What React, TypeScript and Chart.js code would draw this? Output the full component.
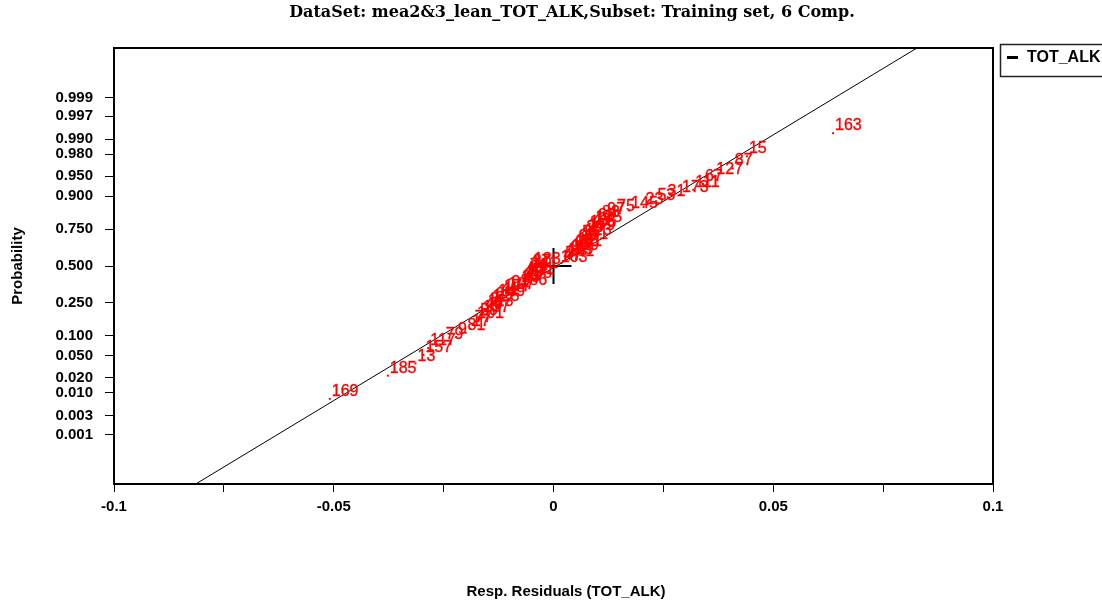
import React, { useEffect, useRef } from 'react';
import { Chart, registerables, LinearScale } from 'chart.js';

// ---------------- data ----------------
const TITLE = 'DataSet: mea2&3_lean_TOT_ALK,Subset: Training set, 6 Comp.';
const X_TITLE = 'Resp. Residuals (TOT_ALK)';
const Y_TITLE = 'Probability';
const LEGEND_LABEL = 'TOT_ALK';

const sampleIds = [
  169, 185, 13, 157, 117, 79, 9, 81, 17, 77,
  101, 59, 137, 49, 113, 3, 125, 65, 149, 41,
  177, 107, 91, 186, 33, 61, 155, 19, 131, 99,
  71, 141, 27, 183, 103, 47, 5, 161, 119, 37,
  139, 69, 181, 11, 93, 151, 55, 123, 29, 179,
  105, 43, 135, 63, 83, 97, 75, 145, 23, 53,
  31, 173, 111, 67, 127, 87, 15, 163,
];

const residuals = [
  -0.0509, -0.0377, -0.0314, -0.0296, -0.0285, -0.0250, -0.0222, -0.0200, -0.0190, -0.0184,
  -0.0178, -0.0171, -0.0165, -0.0160, -0.0154, -0.0149, -0.0143, -0.0137, -0.0130, -0.0124,
  -0.0117, -0.0108, -0.0100, -0.0080, -0.0076, -0.0073, -0.0069, -0.0066, -0.0063, -0.0060,
  -0.0058, -0.0055, -0.0052, -0.0049, 0.0012, 0.0018, 0.0022, 0.0027, 0.0029, 0.0035,
  0.0038, 0.0043, 0.0045, 0.0051, 0.0053, 0.0059, 0.0061, 0.0067, 0.0070, 0.0075,
  0.0078, 0.0085, 0.0091, 0.0096, 0.0106, 0.0118, 0.0140, 0.0172, 0.0205, 0.0232,
  0.0255, 0.0288, 0.0318, 0.0340, 0.0366, 0.0408, 0.0440, 0.0636,
];

const probabilities = [
  0.0074, 0.0221, 0.0368, 0.0515, 0.0662, 0.0809, 0.0956, 0.1103, 0.1250, 0.1397,
  0.1544, 0.1691, 0.1838, 0.1985, 0.2132, 0.2279, 0.2426, 0.2574, 0.2721, 0.2868,
  0.3015, 0.3162, 0.3309, 0.3456, 0.3603, 0.3750, 0.3897, 0.4044, 0.4191, 0.4338,
  0.4485, 0.4632, 0.4779, 0.4926, 0.5074, 0.5221, 0.5368, 0.5515, 0.5662, 0.5809,
  0.5956, 0.6103, 0.6250, 0.6397, 0.6544, 0.6691, 0.6838, 0.6985, 0.7132, 0.7279,
  0.7426, 0.7574, 0.7721, 0.7868, 0.8015, 0.8162, 0.8309, 0.8456, 0.8603, 0.8750,
  0.8897, 0.9044, 0.9191, 0.9338, 0.9485, 0.9632, 0.9779, 0.9926,
];

const refLineResiduals = [-0.0814, 0.0827];
const refLineProbabilities = [0.0000317, 0.9999683];

const centerResidual = [0];
const centerProbability = [0.5];

const yTickValues = [0.001, 0.003, 0.01, 0.02, 0.05, 0.1, 0.25, 0.5, 0.75, 0.9, 0.95, 0.98, 0.99, 0.997, 0.999];
const xTickValues = [-0.1, -0.075, -0.05, -0.025, 0, 0.025, 0.05, 0.075, 0.1];
const xTickLabels = ['-0.1', '', '-0.05', '', '0', '', '0.05', '', '0.1'];

// ---------------- normal probability scale ----------------
const Z_MIN = -4;
const Z_MAX = 4;

function probit(p: number): number {
  if (p <= 0) return -Infinity;
  if (p >= 1) return Infinity;
  const a = [-3.969683028665376e1, 2.209460984245205e2, -2.759285104469687e2, 1.38357751867269e2, -3.066479806614716e1, 2.506628277459239];
  const b = [-5.447609879822406e1, 1.615858368580409e2, -1.556989798598866e2, 6.680131188771972e1, -1.328068155288572e1];
  const c = [-7.784894002430293e-3, -3.223964580411365e-1, -2.400758277161838, -2.549732539343734, 4.374664141464968, 2.938163982698783];
  const d = [7.784695709041462e-3, 3.224671290700398e-1, 2.445134137142996, 3.754408661907416];
  const pl = 0.02425;
  let q: number, r: number;
  if (p < pl) {
    q = Math.sqrt(-2 * Math.log(p));
    return (((((c[0] * q + c[1]) * q + c[2]) * q + c[3]) * q + c[4]) * q + c[5]) / ((((d[0] * q + d[1]) * q + d[2]) * q + d[3]) * q + 1);
  }
  if (p <= 1 - pl) {
    q = p - 0.5;
    r = q * q;
    return ((((((a[0] * r + a[1]) * r + a[2]) * r + a[3]) * r + a[4]) * r + a[5]) * q) / (((((b[0] * r + b[1]) * r + b[2]) * r + b[3]) * r + b[4]) * r + 1);
  }
  q = Math.sqrt(-2 * Math.log(1 - p));
  return -(((((c[0] * q + c[1]) * q + c[2]) * q + c[3]) * q + c[4]) * q + c[5]) / ((((d[0] * q + d[1]) * q + d[2]) * q + d[3]) * q + 1);
}

function normCdf(z: number): number {
  const t = 1 / (1 + 0.3275911 * Math.abs(z) / Math.SQRT2);
  const y = 1 - (((((1.061405429 * t - 1.453152027) * t + 1.421413741) * t - 0.284496736) * t + 0.254829592) * t) * Math.exp(-(z * z) / 2);
  return z >= 0 ? 0.5 * (1 + y) : 0.5 * (1 - y);
}

class ProbitScale extends LinearScale {
  static id = 'probit';
  static defaults = {};
  determineDataLimits() {
    (this as any).min = Z_MIN;
    (this as any).max = Z_MAX;
  }
  buildTicks() {
    return yTickValues.map((v) => ({ value: v }));
  }
  getPixelForValue(value: number) {
    return super.getPixelForValue(probit(value));
  }
  getValueForPixel(pixel: number) {
    return normCdf(super.getValueForPixel(pixel) as number);
  }
}

Chart.register(...registerables, ProbitScale as any);

const SANS = '"Liberation Sans", Arial, sans-serif';

const decorPlugin = {
  id: 'decor',
  beforeDatasetsDraw(chart: any) {
    const { ctx, chartArea } = chart;
    ctx.save();
    ctx.strokeStyle = '#000';
    ctx.lineWidth = 2;
    ctx.beginPath();
    ctx.moveTo(chartArea.left, chartArea.top);
    ctx.lineTo(chartArea.right, chartArea.top);
    ctx.lineTo(chartArea.right, chartArea.bottom);
    ctx.stroke();
    ctx.restore();
  },
  afterDatasetsDraw(chart: any) {
    const { ctx } = chart;
    const meta = chart.getDatasetMeta(2);
    ctx.save();
    ctx.fillStyle = '#ff0000';
    ctx.strokeStyle = '#ff0000';
    ctx.lineWidth = 0.35;
    ctx.font = `16px ${SANS}`;
    ctx.textAlign = 'left';
    ctx.textBaseline = 'alphabetic';
    meta.data.forEach((el: any, i: number) => {
      const t = String(sampleIds[i]);
      ctx.fillText(t, el.x + 2, el.y - 3);
      ctx.strokeText(t, el.x + 2, el.y - 3);
    });
    ctx.restore();
  },
  afterDraw(chart: any) {
    const { ctx } = chart;
    ctx.save();
    ctx.fillStyle = '#000';
    // title
    ctx.font = 'bold 16px "DejaVu Serif", serif';
    ctx.textAlign = 'center';
    ctx.textBaseline = 'middle';
    ctx.fillText(TITLE, 572, 13);
    // x title
    ctx.font = `bold 15px ${SANS}`;
    ctx.fillText(X_TITLE, 566, 592);
    // y title
    ctx.save();
    ctx.translate(18, 266);
    ctx.rotate(-Math.PI / 2);
    ctx.fillText(Y_TITLE, 0, 0);
    ctx.restore();
    // legend
    ctx.strokeStyle = '#222';
    ctx.lineWidth = 1.5;
    ctx.strokeRect(1000.5, 44.5, 130, 32);
    ctx.fillRect(1007, 56, 11, 3);
    ctx.font = `bold 16px ${SANS}`;
    ctx.textAlign = 'left';
    ctx.fillText(LEGEND_LABEL, 1027, 58);
    ctx.restore();
  },
};

export default function App() {
  const canvasRef = useRef<HTMLCanvasElement | null>(null);

  useEffect(() => {
    const canvas = canvasRef.current;
    if (!canvas) return;
    const chart = new Chart(canvas, {
      type: 'scatter',
      data: {
        datasets: [
          {
            label: 'ref',
            type: 'line',
            data: refLineResiduals.map((x, i) => ({ x, y: refLineProbabilities[i] })),
            borderColor: '#000',
            borderWidth: 1,
            pointRadius: 0,
            fill: false,
            order: 3,
          } as any,
          {
            label: 'center',
            data: centerResidual.map((x, i) => ({ x, y: centerProbability[i] })),
            pointStyle: 'cross',
            pointRadius: 18,
            borderColor: '#000',
            borderWidth: 2,
            order: 2,
          },
          {
            label: LEGEND_LABEL,
            data: residuals.map((x, i) => ({ x, y: probabilities[i] })),
            pointStyle: 'rect',
            pointRadius: 1.4,
            backgroundColor: '#ff0000',
            borderColor: '#ff0000',
            borderWidth: 0,
            order: 1,
          },
        ],
      },
      options: {
        animation: false,
        responsive: false,
        devicePixelRatio: 1,
        events: [],
        layout: { padding: { left: 0, top: 48, right: 109, bottom: 0 } },
        plugins: { legend: { display: false }, tooltip: { enabled: false }, title: { display: false } },
        scales: {
          x: {
            type: 'linear',
            min: -0.1,
            max: 0.1,
            afterBuildTicks: (scale: any) => {
              scale.ticks = xTickValues.map((v) => ({ value: v }));
            },
            afterFit: (scale: any) => {
              scale.height = 118;
            },
            ticks: {
              autoSkip: false,
              maxRotation: 0,
              padding: 6,
              color: '#000',
              font: { family: SANS, size: 15, weight: 'bold' },
              callback: (_v: any, i: number) => xTickLabels[i],
            },
            grid: { drawOnChartArea: false, drawTicks: true, tickLength: 8, color: '#000', lineWidth: 1 },
            border: { display: true, color: '#000', width: 2 },
          },
          y: {
            type: 'probit' as any,
            afterFit: (scale: any) => {
              scale.width = 114;
            },
            ticks: {
              autoSkip: false,
              padding: 12,
              color: '#000',
              font: { family: SANS, size: 15, weight: 'bold' },
              callback: (v: any) => Number(v).toFixed(3),
            },
            grid: { drawOnChartArea: false, drawTicks: true, tickLength: 9, color: '#000', lineWidth: 1 },
            border: { display: true, color: '#000', width: 2 },
          } as any,
        },
      },
      plugins: [decorPlugin],
    });
    return () => chart.destroy();
  }, []);

  return (
    <div style={{ position: 'fixed', left: 0, top: 0, width: 1102, height: 602, background: '#fff' }}>
      <canvas ref={canvasRef} width={1102} height={602} style={{ display: 'block', width: 1102, height: 602 }} />
    </div>
  );
}
